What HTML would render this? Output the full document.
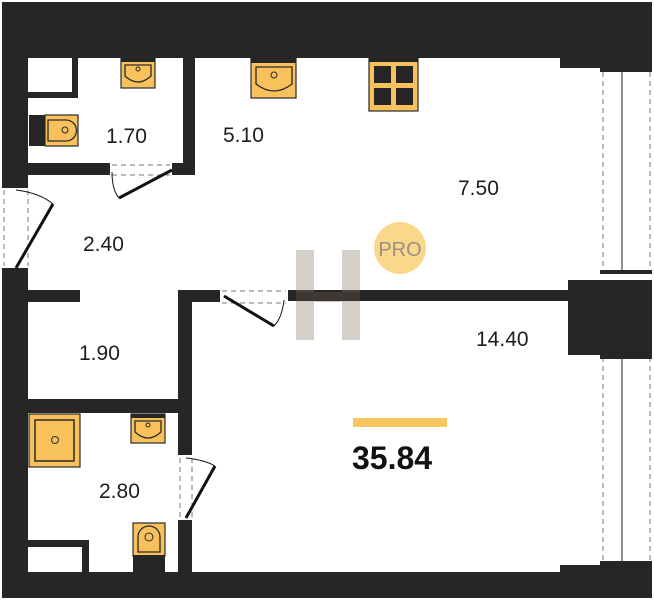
<!DOCTYPE html>
<html><head><meta charset="utf-8"><style>
html,body{margin:0;padding:0;background:#fff}
svg{display:block}
text{font-family:"Liberation Sans",sans-serif;fill:#1e1e1e}
</style></head><body>
<svg width="654" height="600" viewBox="0 0 654 600" xmlns="http://www.w3.org/2000/svg">
<defs><style>.w{fill:#262626}.y{fill:#f8c15c;stroke:#2a2a2a;stroke-width:1.2}.d{stroke:#777;stroke-width:1;stroke-dasharray:5 4;fill:none}</style></defs>
<rect width="654" height="600" fill="#fff"/>
<!-- outer walls -->
<rect class="w" x="2" y="2" width="650" height="56"/>
<rect class="w" x="560" y="2" width="92" height="66"/>
<rect class="w" x="2" y="2" width="26" height="186"/>
<rect class="w" x="2" y="268" width="26" height="330"/>
<rect class="w" x="2" y="572" width="600" height="26"/>
<rect class="w" x="560" y="565" width="92" height="33"/>
<rect class="w" x="568" y="280" width="84" height="75"/>
<!-- windows -->
<line class="d" x1="603" y1="72" x2="603" y2="270"/><line class="d" x1="650" y1="72" x2="650" y2="270"/>
<line x1="622" y1="72" x2="622" y2="270" stroke="#444" stroke-width="1.2"/>
<rect class="w" x="600" y="68" width="52" height="4"/><rect class="w" x="600" y="270" width="52" height="4"/>
<line class="d" x1="603" y1="357" x2="603" y2="563"/><line class="d" x1="650" y1="357" x2="650" y2="563"/>
<line x1="622" y1="357" x2="622" y2="563" stroke="#444" stroke-width="1.2"/>
<rect class="w" x="600" y="355" width="52" height="4"/><rect class="w" x="600" y="561" width="52" height="4"/>
<!-- inner walls -->
<rect class="w" x="72" y="58" width="6" height="40"/>
<rect class="w" x="28" y="92" width="50" height="6"/>
<rect class="w" x="183" y="58" width="12" height="117"/>
<rect class="w" x="28" y="163" width="82" height="12"/>
<rect class="w" x="172" y="163" width="23" height="12"/>
<rect class="w" x="28" y="290" width="52" height="12"/>
<rect class="w" x="178" y="290" width="42" height="12"/>
<rect class="w" x="288" y="290" width="280" height="11"/>
<rect class="w" x="178" y="290" width="14" height="165"/>
<rect class="w" x="178" y="520" width="14" height="52"/>
<rect class="w" x="28" y="399" width="164" height="14"/>
<rect class="w" x="28" y="540" width="61" height="7"/>
<rect class="w" x="82" y="540" width="7" height="32"/>
<!-- doors -->
<line class="d" x1="112" y1="165" x2="170" y2="165"/><line class="d" x1="112" y1="175" x2="170" y2="175"/>
<line x1="172" y1="170" x2="119" y2="198" stroke="#111" stroke-width="3"/>
<path d="M112 172 Q112 190 119 198" fill="none" stroke="#111" stroke-width="1"/>
<line class="d" x1="4" y1="190" x2="4" y2="266"/><line class="d" x1="28" y1="190" x2="28" y2="266"/>
<line x1="16" y1="268" x2="53" y2="204" stroke="#111" stroke-width="3"/>
<path d="M16 190 Q40 193 53 204" fill="none" stroke="#111" stroke-width="1"/>
<line class="d" x1="222" y1="291" x2="286" y2="291"/><line class="d" x1="222" y1="303" x2="286" y2="303"/>
<line x1="224" y1="296" x2="274" y2="326" stroke="#111" stroke-width="3"/>
<path d="M284 300 Q282 318 274 326" fill="none" stroke="#111" stroke-width="1"/>
<line class="d" x1="180" y1="458" x2="180" y2="518"/><line class="d" x1="192" y1="458" x2="192" y2="518"/>
<line x1="186" y1="518" x2="215" y2="466" stroke="#111" stroke-width="3"/>
<path d="M186 458 Q205 460 215 466" fill="none" stroke="#111" stroke-width="1"/>
<!-- watermark -->
<g opacity="0.35"><polygon points="296,250 314,250 314,340 296,340" fill="#8a7a6a"/><polygon points="342,250 360,250 360,340 342,340" fill="#8a7a6a"/><polygon points="296,292 360,292 360,302 296,302" fill="#6a5a4a"/></g>
<!-- fixtures -->
<rect class="y" x="45" y="115" width="33" height="31"/><rect class="w" x="29" y="115" width="16" height="31"/>
<path d="M48 120 H66 A10 10 0 0 1 66 141 H48 Z" fill="none" stroke="#2a2a2a" stroke-width="1.3"/><circle cx="65" cy="130" r="3" fill="none" stroke="#2a2a2a"/>
<rect class="y" x="121" y="58" width="34" height="30"/><rect class="w" x="121" y="58" width="34" height="4"/>
<path d="M125 65 H151 V76 Q138 88 125 76 Z" fill="none" stroke="#2a2a2a" stroke-width="1.3"/><circle cx="138" cy="69" r="2" fill="none" stroke="#2a2a2a"/>
<rect class="y" x="251" y="58" width="45" height="40"/><rect class="w" x="251" y="58" width="45" height="5"/>
<path d="M256 67 H292 V84 Q274 98 256 84 Z" fill="none" stroke="#2a2a2a" stroke-width="1.3"/><circle cx="274" cy="75" r="3" fill="none" stroke="#2a2a2a"/>
<rect class="y" x="369" y="58" width="49" height="53"/><rect class="w" x="369" y="58" width="49" height="4"/>
<rect class="w" x="374" y="66" width="17" height="17"/><rect class="w" x="396" y="66" width="17" height="17"/><rect class="w" x="374" y="88" width="17" height="17"/><rect class="w" x="396" y="88" width="17" height="17"/>
<rect class="y" x="29" y="414" width="51" height="53"/><rect x="35" y="420" width="39" height="41" fill="none" stroke="#2a2a2a" stroke-width="1.5"/><circle cx="55" cy="440" r="3.5" fill="none" stroke="#2a2a2a"/>
<rect class="y" x="131" y="414" width="34" height="29"/><rect class="w" x="131" y="414" width="34" height="4"/>
<path d="M135 421 H161 V432 Q148 444 135 432 Z" fill="none" stroke="#2a2a2a" stroke-width="1.3"/><circle cx="148" cy="425" r="2" fill="none" stroke="#2a2a2a"/>
<rect class="y" x="133" y="523" width="32" height="33"/><rect class="w" x="133" y="555" width="32" height="17"/>
<path d="M138 552 V537 A11 11 0 0 1 160 537 V552 Z" fill="none" stroke="#2a2a2a" stroke-width="1.3"/><circle cx="149" cy="537" r="4" fill="none" stroke="#2a2a2a"/>
<!-- PRO -->
<circle cx="400" cy="248" r="26" fill="#f9d88c"/>
<text x="400" y="256" font-size="20" text-anchor="middle" style="fill:#9a8f80">PRO</text>
<!-- labels -->
<g font-size="21">
<text x="106" y="143">1.70</text><text x="223" y="142">5.10</text><text x="458" y="195">7.50</text>
<text x="83" y="251">2.40</text><text x="79" y="360">1.90</text><text x="476" y="346">14.40</text><text x="99" y="498">2.80</text>
</g>
<rect x="353" y="418" width="94" height="9" fill="#f8c55e"/>
<text x="352" y="469" font-size="32" font-weight="bold" style="fill:#111">35.84</text>
</svg>
</body></html>
